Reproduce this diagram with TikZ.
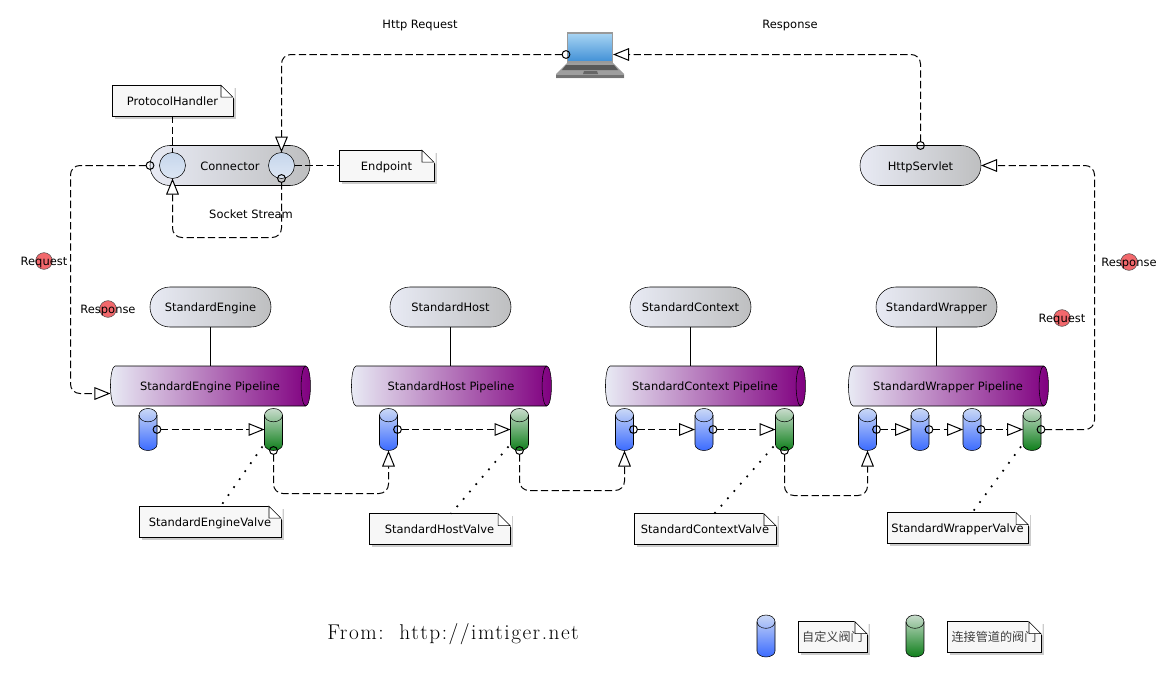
\documentclass[tikz,border=0pt]{standalone}
\usepackage{fontspec}
\newfontfamily\uifont{DejaVu Sans}
\newfontfamily\cjkfont{Noto Sans CJK SC}
\newfontfamily\fromfont[LetterSpace=7]{Latin Modern Roman}
\usetikzlibrary{arrows.meta,shapes.geometric,shadows}
\definecolor{pillgrey}{HTML}{BEBFC0}
\definecolor{paleblue}{HTML}{E8EAF4}
\definecolor{portblue}{HTML}{C6D6EC}
\definecolor{pipepurple}{HTML}{800080}
\definecolor{valveblue}{HTML}{3B6BFF}
\definecolor{valvepale}{HTML}{CAD8F6}
\definecolor{valvegreen}{HTML}{0E7F1A}
\definecolor{greenpale}{HTML}{C8DCCC}
\definecolor{tokenred}{HTML}{F2686C}
\definecolor{screentop}{HTML}{A9D5F3}
\definecolor{screenlow}{HTML}{3F8FD6}
\tikzset{
  uitext/.style={font=\uifont\fontsize{8.6}{10}\selectfont,text height=8.5pt,text depth=1.5pt},
  pill/.style={uitext,draw,left color=paleblue,right color=pillgrey,rounded corners=14.9pt,minimum width=90.75pt,minimum height=30pt,inner sep=0pt,outer sep=0pt},
  port/.style={circle,draw,top color=portblue,bottom color=portblue!60!white,minimum size=19.5pt,inner sep=0pt,outer sep=0pt},
  pipe/.style={uitext,cylinder,draw,left color=paleblue,right color=pipepurple,aspect=.7,minimum width=30pt,minimum height=150pt,inner sep=0pt,outer sep=0pt,execute at begin node=\hspace*{3pt}},
  valve/.style={minimum width=13.5pt,minimum height=31.5pt,inner sep=0pt,outer sep=0pt},
  notebox/.style={uitext,draw,fill=white!97!black,drop shadow={shadow xshift=2pt,shadow yshift=-2pt,opacity=.4},minimum height=23pt,inner sep=0pt,outer sep=0pt},
  cjknote/.style={notebox,font=\cjkfont\fontsize{9.1}{11}\selectfont,text=black!75},
  token/.style={circle,draw=black!70,fill=tokenred,minimum size=12.5pt,inner sep=0pt},
  flow/.style={line width=.75pt,dash pattern=on 5.5pt off 2.5pt,rounded corners=7pt},
  call/.style={flow,{Circle[open,length=6.6pt]}-{Triangle[fill=white,length=12pt,width=9.5pt]},shorten <=-3.3pt},
  dots/.style={line width=1.3pt,dash pattern=on 1.3pt off 6pt},
}
\begin{document}
\begin{tikzpicture}[x=.75pt,y=-.75pt]
  \useasboundingbox (0,0) rectangle (1175,675);

  % laptop
  \fill[black!38] (567,63) -- (613,63) -- (624,74) -- (624,78) -- (556,78) -- (556,74) -- cycle;
  \fill[black!55] (556,75) -- (624,75) -- (624,78) -- (556,78) -- cycle;
  \fill[black!65] (566,65) -- (614,65) -- (618,70) -- (562,70) -- cycle;
  \fill[black!60] (584,71) -- (597,71) -- (598,74) -- (583,74) -- cycle;
  \node[draw=black!40,line width=1.2pt,top color=screentop,bottom color=screenlow,minimum width=34pt,minimum height=22pt,inner sep=0pt,outer sep=0pt] (screen) at (590,47.5) {};
  \coordinate (screenl) at (566,54.5);
  \coordinate (screenr) at (613,54.5);

  % connector and servlet
  \node[pill,minimum width=120pt] (conn) at (230,165.5) {Connector};
  \node[port] (portl) at (172.5,165.5) {};
  \node[port] (portr) at (281.5,165.5) {};
  \node[pill] (servlet) at (920.5,165.5) {HttpServlet};
  \node[notebox,minimum width=90.75pt] (phnote) at (172.5,100.5) {ProtocolHandler};
  \node[notebox,minimum width=71.25pt] (epnote) at (386.5,165.5) {Endpoint};

  % containers
  \node[pill] (engine) at (210.5,307) {StandardEngine};
  \node[pill] (host) at (450.5,307) {StandardHost};
  \node[pill] (context) at (690.5,307) {StandardContext};
  \node[pill] (wrapper) at (936.5,307) {StandardWrapper};

  % pipelines
  \node[pipe] (enginepipe) at (208,386) {StandardEngine Pipeline};
  \node[pipe] (hostpipe) at (449,386) {StandardHost Pipeline};
  \node[pipe] (contextpipe) at (703,386) {StandardContext Pipeline};
  \node[pipe] (wrapperpipe) at (946,386) {StandardWrapper Pipeline};

  % valves
  \node[valve] (enginea) at (148,429.5) {};
  \node[valve] (engineb) at (273.5,429.5) {};
  \node[valve] (hosta) at (388.5,429.5) {};
  \node[valve] (hostb) at (519.5,429.5) {};
  \node[valve] (contexta) at (624.5,429.5) {};
  \node[valve] (contextb) at (704,429.5) {};
  \node[valve] (contextc) at (784.5,429.5) {};
  \node[valve] (wrappera) at (867.5,429.5) {};
  \node[valve] (wrapperb) at (920,429.5) {};
  \node[valve] (wrapperc) at (972,429.5) {};
  \node[valve] (wrapperd) at (1032,429.5) {};
  \node[valve] (keya) at (766,636) {};
  \node[valve] (keyb) at (915,636) {};
  \foreach \n/\a/\b in {enginea/valvepale/valveblue,engineb/greenpale/valvegreen,hosta/valvepale/valveblue,hostb/greenpale/valvegreen,contexta/valvepale/valveblue,contextb/valvepale/valveblue,contextc/greenpale/valvegreen,wrappera/valvepale/valveblue,wrapperb/valvepale/valveblue,wrapperc/valvepale/valveblue,wrapperd/greenpale/valvegreen,keya/valvepale/valveblue,keyb/greenpale/valvegreen} {
    \draw[top color=\a,bottom color=\b] ([yshift=-5pt]\n.north west) arc[start angle=180,end angle=0,x radius=6.75pt,y radius=5pt] -- ([yshift=4.5pt]\n.south east) arc[start angle=0,end angle=-180,x radius=6.75pt,y radius=4.5pt] -- cycle;
    \draw ([yshift=-5pt]\n.north west) arc[start angle=180,end angle=360,x radius=6.75pt,y radius=5pt];
  }

  % valve notes
  \node[notebox,minimum width=106.5pt] (enginenote) at (210,521.5) {StandardEngineValve};
  \node[notebox,minimum width=106pt] (hostnote) at (439.5,529) {StandardHostValve};
  \node[notebox,minimum width=106.5pt] (contextnote) at (705,529) {StandardContextValve};
  \node[notebox,minimum width=106pt] (wrappernote) at (957.5,528) {StandardWrapperValve};

  % legend
  \node[cjknote,minimum width=51.75pt] (keyanote) at (832.5,637) {自定义阀门};
  \node[cjknote,minimum width=70.5pt] (keybnote) at (994,637) {连接管道的阀门};

  % folded corners
  \foreach \n in {phnote,epnote,enginenote,hostnote,contextnote,wrappernote,keyanote,keybnote} {
    \fill[white,draw=white,line width=1.2pt] ([xshift=-9pt,yshift=.6pt]\n.north east) -- ([xshift=.6pt,yshift=.6pt]\n.north east) -- ([xshift=.6pt,yshift=-9pt]\n.north east) -- cycle;
    \draw[fill=white] ([xshift=-9pt]\n.north east) -- ([yshift=-9pt]\n.north east) -- ([xshift=-9pt,yshift=-9pt]\n.north east) -- cycle;
  }

  % tokens
  \node[token,label={[uitext]center:Request}] (reqa) at (44,261) {};
  \node[token,label={[uitext]center:Response}] (resa) at (108,309) {};
  \node[token,label={[uitext]center:Request}] (reqb) at (1062,318) {};
  \node[token,label={[uitext]center:Response}] (resb) at (1129,262) {};

  % texts
  \node[uitext] (httpreq) at (420,24) {Http Request};
  \node[uitext] (httpres) at (790,24) {Response};
  \node[uitext] (socket) at (251,214) {Socket Stream};
  \node[font=\fromfont\fontsize{16}{18}\selectfont] (from) at (453,634) {From:\ \ http://imtiger.net};

  % request and response
  \draw[call] (screenl) -| (portr.north);
  \draw[call] (servlet.north) |- (screenr);
  \draw[call] (conn.west) -- ++(-79.5,0) |- ([yshift=-5.625pt]enginepipe.west);
  \draw[call] (portr.south) -- ++(0,59) -| (portl.south);
  \draw[flow] (phnote.south) -- (portl.north);
  \draw[flow] (portr.east) -- (epnote.west);
  \draw[call] (wrapperd.east) -- ++(53.5,0) |- (servlet.east);

  % pipeline hops
  \draw[call] (enginea.east) -- (engineb.west);
  \draw[call] (engineb.south) -- ++(0,43) -| (hosta.south);
  \draw[call] (hosta.east) -- (hostb.west);
  \draw[call] (hostb.south) -- ++(0,40) -| (contexta.south);
  \draw[call] (contexta.east) -- (contextb.west);
  \draw[call] (contextb.east) -- (contextc.west);
  \draw[call] (contextc.south) -- ++(0,45) -| (wrappera.south);
  \draw[call] (wrappera.east) -- (wrapperb.west);
  \draw[call] (wrapperb.east) -- (wrapperc.west);
  \draw[call] (wrapperc.east) -- (wrapperd.west);

  % solid links
  \draw (engine.south) -- (engine.south |- enginepipe.north);
  \draw (host.south) -- (host.south |- hostpipe.north);
  \draw (context.south) -- (context.south |- contextpipe.north);
  \draw (wrapper.south) -- (wrapper.south |- wrapperpipe.north);

  % dotted links
  \draw[dots] ([xshift=-1.5pt,yshift=3pt]engineb.south west) -- ([xshift=8pt]enginenote.north);
  \draw[dots] ([xshift=-1.5pt,yshift=3pt]hostb.south west) -- ([xshift=8.6pt]hostnote.north);
  \draw[dots] ([xshift=-1.5pt,yshift=3pt]contextc.south west) -- ([xshift=7pt]contextnote.north);
  \draw[dots] ([xshift=-1.5pt,yshift=3pt]wrapperd.south west) -- ([xshift=11pt]wrappernote.north);
\end{tikzpicture}
\end{document}
